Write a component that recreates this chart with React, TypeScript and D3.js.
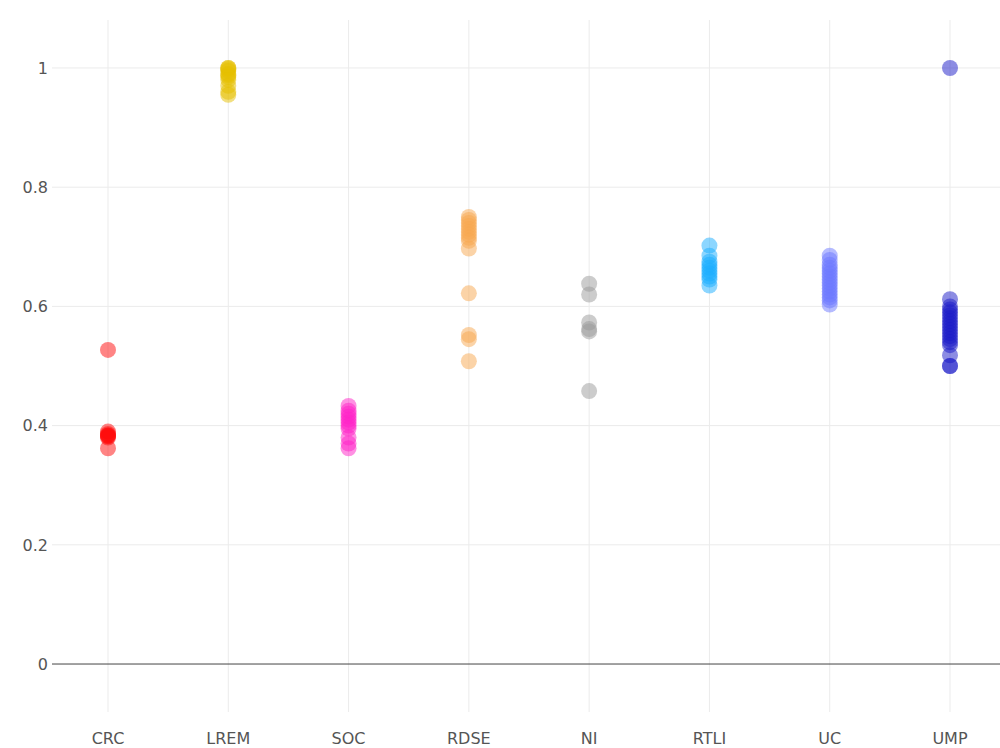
import React from "react";
import * as d3 from "d3";

const categories = ["CRC", "LREM", "SOC", "RDSE", "NI", "RTLI", "UC", "UMP"];
const colors = ["#ff0a0a", "#e6c000", "#ff22c8", "#f7a850", "#999999", "#1aaeff", "#6c78ff", "#1a1ac8"];

const crc = [0.527, 0.39, 0.386, 0.384, 0.383, 0.382, 0.38, 0.362];
const lrem = [1.0, 1.0, 0.998, 0.995, 0.99, 0.988, 0.985, 0.98, 0.97, 0.96, 0.955];
const soc = [0.433, 0.425, 0.42, 0.415, 0.41, 0.405, 0.4, 0.395, 0.38, 0.37, 0.362];
const rdse = [0.75, 0.745, 0.74, 0.735, 0.73, 0.725, 0.72, 0.715, 0.71, 0.697, 0.622, 0.552, 0.545, 0.508];
const ni = [0.638, 0.62, 0.573, 0.562, 0.558, 0.458];
const rtli = [0.702, 0.685, 0.675, 0.67, 0.665, 0.66, 0.655, 0.65, 0.645, 0.635];
const uc = [0.685, 0.678, 0.67, 0.665, 0.66, 0.655, 0.65, 0.645, 0.64, 0.635, 0.63, 0.625, 0.62, 0.615, 0.61, 0.603];
const ump = [1.0, 0.612, 0.6, 0.595, 0.59, 0.585, 0.58, 0.575, 0.57, 0.565, 0.56, 0.555, 0.55, 0.545, 0.54, 0.535, 0.518, 0.5, 0.5];

const series = [crc, lrem, soc, rdse, ni, rtli, uc, ump];
const yTicks = [0, 0.2, 0.4, 0.6, 0.8, 1];

export default function App() {
  const W = 1000, H = 748;
  const left = 52, right = 1000;
  const y = d3.scaleLinear().domain([-0.08, 1.08]).range([711.7, 20.3]);
  const x = d3.scaleLinear().domain([0, 7]).range([108, 950]);
  const fmt = (v: number) => (v === 0 ? "0" : v === 1 ? "1" : d3.format(".1f")(v));
  return (
    <svg width={W} height={H} style={{ position: "absolute", left: 0, top: 0, background: "#fff" }}
      fontFamily="'DejaVu Sans', Verdana, sans-serif">
      {categories.map((c, i) => (
        <line key={"vg" + c} x1={x(i)} x2={x(i)} y1={20} y2={712} stroke="#ebebeb" strokeWidth={1} />
      ))}
      {yTicks.filter((t) => t !== 0).map((t) => (
        <line key={"hg" + t} x1={left} x2={right} y1={y(t)} y2={y(t)} stroke="#ebebeb" strokeWidth={1} />
      ))}
      <line x1={left} x2={right} y1={y(0)} y2={y(0)} stroke="#444" strokeWidth={1} />
      {yTicks.map((t) => (
        <text key={"yt" + t} x={48} y={y(t)} dy="0.36em" textAnchor="end" fontSize={16} fill="#555">
          {fmt(t)}
        </text>
      ))}
      {categories.map((c, i) => (
        <text key={"xt" + c} x={x(i)} y={738} dy="0.36em" textAnchor="middle" fontSize={16} fill="#555">
          {c}
        </text>
      ))}
      {series.map((vals, i) =>
        vals.map((v, j) => (
          <circle key={i + "-" + j} cx={x(i)} cy={y(v)} r={8} fill={colors[i]} fillOpacity={0.5} />
        ))
      )}
    </svg>
  );
}
